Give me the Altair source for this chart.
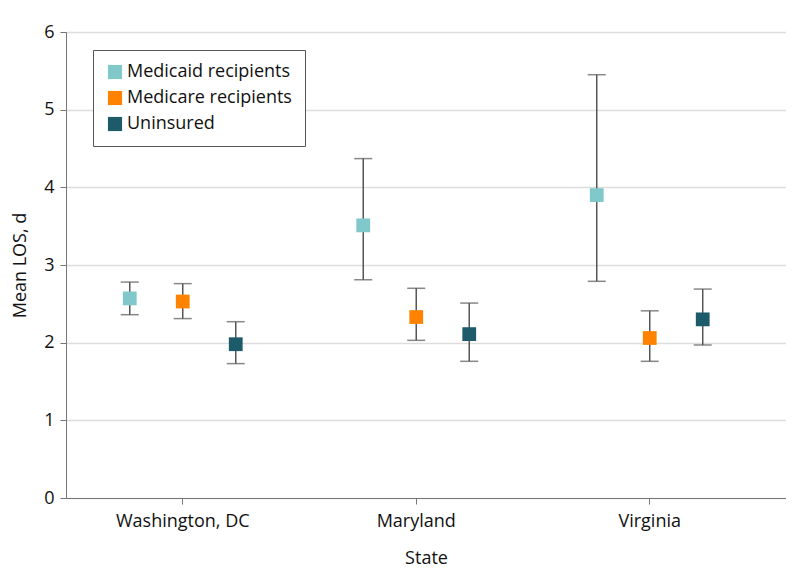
import altair as alt
import pandas as pd

states = ["Washington, DC", "Maryland", "Virginia"]
groups = ["Medicaid recipients", "Medicare recipients", "Uninsured"]
colors = ["#80c8ca", "#ff8300", "#1d5a6a"]

# mean LOS and 95% CI, per state, per group
mean_vals = {
    "Medicaid recipients": [2.57, 3.51, 3.90],
    "Medicare recipients": [2.53, 2.33, 2.06],
    "Uninsured": [1.98, 2.11, 2.30],
}
low_vals = {
    "Medicaid recipients": [2.36, 2.81, 2.79],
    "Medicare recipients": [2.31, 2.03, 1.76],
    "Uninsured": [1.73, 1.76, 1.97],
}
high_vals = {
    "Medicaid recipients": [2.78, 4.37, 5.45],
    "Medicare recipients": [2.76, 2.70, 2.41],
    "Uninsured": [2.27, 2.51, 2.69],
}

rows = []
for g in groups:
    for i, s in enumerate(states):
        rows.append({"State": s, "Group": g, "mean": mean_vals[g][i],
                     "lo": low_vals[g][i], "hi": high_vals[g][i]})
df = pd.DataFrame(rows)

FONT = "Open Sans"

xenc = alt.X("State:N", sort=states, title="State",
             scale=alt.Scale(paddingInner=0, paddingOuter=0.0418, align=0),
             axis=alt.Axis(labelAngle=0, labelFontSize=18, titleFontSize=18,
                           titleFontWeight="normal",
                           labelPadding=8, titlePadding=19, domainColor="#777",
                           tickColor="#777", tickSize=6, grid=False,
                           labelColor="#111", titleColor="#111"))
xoff = alt.XOffset("Group:N", sort=groups,
                   scale=alt.Scale(paddingInner=0, paddingOuter=0.703))
yscale = alt.Scale(domain=[0, 6], nice=False)

base = alt.Chart(df)

rules = base.mark_rule(color="#555", strokeWidth=1.5).encode(
    x=xenc, xOffset=xoff,
    y=alt.Y("lo:Q", scale=yscale),
    y2="hi:Q",
)
cap_lo = base.mark_tick(color="#555", thickness=1.5, size=18, orient="horizontal").encode(
    x=xenc, xOffset=xoff, y=alt.Y("lo:Q", scale=yscale))
cap_hi = base.mark_tick(color="#555", thickness=1.5, size=18, orient="horizontal").encode(
    x=xenc, xOffset=xoff, y=alt.Y("hi:Q", scale=yscale))

points = base.mark_square(size=190, opacity=1, filled=True).encode(
    x=xenc, xOffset=xoff,
    y=alt.Y("mean:Q", scale=yscale, title="Mean LOS, d",
            axis=alt.Axis(values=[0, 1, 2, 3, 4, 5, 6], format="d",
                          labelFontSize=18, titleFontWeight="normal",
                          titleFontSize=18, titlePadding=14, labelPadding=6,
                          domainColor="#777", tickColor="#777", tickSize=6,
                          gridColor="#dddddd", gridWidth=1.5,
                          labelColor="#111", titleColor="#111")),
    color=alt.Color("Group:N", sort=groups,
                    scale=alt.Scale(domain=groups, range=colors),
                    legend=alt.Legend(title=None, orient="none", legendX=27, legendY=18,
                                      symbolType="square", symbolSize=200,
                                      symbolStrokeWidth=0, symbolOpacity=1,
                                      labelFontSize=18, labelColor="#111",
                                      labelOffset=3, rowPadding=8,
                                      padding=13, strokeColor="#555",
                                      fillColor="white", labelLimit=300)),
)

chart = alt.layer(rules, cap_lo, cap_hi, points).properties(
    width=720, height=466,
    autosize=alt.AutoSizeParams(type="none"),
    padding={"left": 58, "top": 24, "right": 0, "bottom": 82},
).configure_view(stroke=None).configure(font=FONT)

chart.save("out.html", embed_options={"renderer": "svg", "actions": False})
